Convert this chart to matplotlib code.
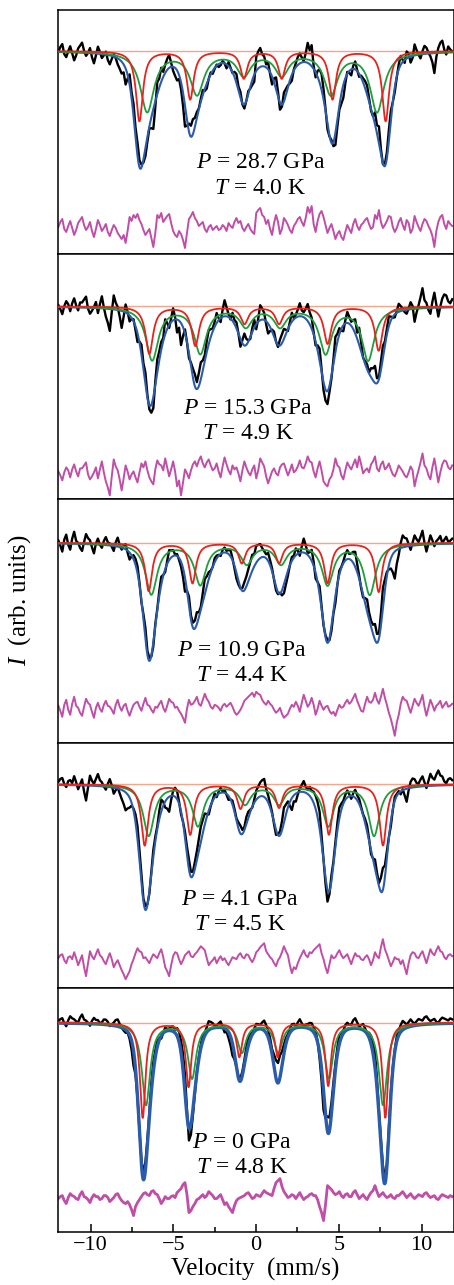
import numpy as np
import matplotlib
matplotlib.use('Agg')
import matplotlib.pyplot as plt
from matplotlib.ticker import MultipleLocator

plt.rcParams['font.family'] = ['Liberation Serif', 'DejaVu Serif']
plt.rcParams['mathtext.fontset'] = 'custom'
plt.rcParams['mathtext.rm'] = 'Liberation Serif'
plt.rcParams['mathtext.it'] = 'Liberation Serif:italic'

# Spectra from top to bottom
pressures = ['28.7', '15.3', '10.9', '4.1', '0']
temperatures = ['4.0', '4.9', '4.4', '4.5', '4.8']

# Sextet 1 (red): line positions (mm/s), depths (arb.), FWHM (mm/s)
red_pos = [[-7.05, -3.98, -0.74, 1.55, 4.62, 7.83],
           [-6.45, -3.67, -0.70, 1.39, 4.32, 7.41],
           [-6.49, -3.84, -0.86, 1.39, 4.32, 7.41],
           [-6.73, -3.98, -0.94, 1.39, 4.40, 7.67],
           [-6.85, -4.08, -1.01, 1.31, 4.36, 7.81]]
red_depth = [[0.70, 0.48, 0.27, 0.27, 0.48, 0.70],
             [0.47, 0.39, 0.17, 0.17, 0.37, 0.44],
             [0.48, 0.40, 0.20, 0.20, 0.40, 0.49],
             [0.61, 0.50, 0.24, 0.23, 0.50, 0.61],
             [0.95, 0.64, 0.34, 0.34, 0.63, 0.95]]
red_fwhm = [0.50, 0.55, 0.50, 0.50, 0.40]

# Sextet 2 (green)
green_pos = [[-6.58, -3.57, -0.74, 1.55, 4.52, 7.31],
             [-6.28, -3.37, -0.62, 1.45, 4.20, 6.77],
             [-6.33, -3.37, -0.56, 1.51, 4.32, 6.87],
             [-6.49, -3.51, -0.66, 1.39, 4.36, 7.13],
             [-6.65, -3.87, -0.86, 1.34, 4.40, 7.67]]
green_depth = [[0.60, 0.42, 0.23, 0.23, 0.42, 0.60],
               [0.53, 0.46, 0.19, 0.19, 0.46, 0.53],
               [0.51, 0.41, 0.20, 0.20, 0.41, 0.51],
               [0.51, 0.41, 0.19, 0.19, 0.41, 0.51],
               [0.82, 0.55, 0.29, 0.29, 0.55, 0.82]]
green_fwhm = [1.00, 0.90, 0.85, 0.80, 0.60]

# Total fit (blue): same lines, broadened (pseudo-Voigt) and rescaled
blue_scale = [1.00, 1.00, 1.20, 1.16, 0.93]
blue_broad = [1.5, 1.5, 1.5, 1.5, 1.5]
blue_eta = 0.4

# Residuals (data - fit), in 0.01 arb. units, 200 channels from -11.95 to 11.85 mm/s
resid_1 = [0, 5, 8, -2, -5, 1, 6, -1, -8, -3, 4, 7, 10, 2, -3, 0, 5, -4, -10, -2,
           7, 2, -4, -1, 3, -5, -9, -3, 2, -1, -6, -9, -12, -8, -16, -4, 10, 6, 12, 9,
           13, 7, 3, -3, -8, -5, -2, -11, -20, -6, 12, 9, 14, 5, 8, 11, 13, 4, -4, -8,
           -10, -4, -7, -13, -21, -6, 8, 11, 15, 9, 6, 1, 3, 5, -2, -5, 0, 2, -3, -1,
           1, -3, -2, 2, 0, -4, 4, 1, -1, 5, 9, 4, 6, -1, -4, 0, 3, -2, -5, -7,
           14, 17, 19, 12, 10, 3, 7, -2, -8, 4, 12, 5, -7, -2, 9, 6, 2, -3, -6, 1,
           4, 8, 10, 5, 1, 9, 20, 14, 21, 3, -5, 6, 13, 16, 10, 2, -6, -1, 3, -4,
           -12, -7, -4, -10, -13, -5, 2, -2, -6, 3, 8, 1, -3, 2, 4, 7, 9, 3, -2, 0,
           12, 8, 17, 5, -1, 2, 6, 11, 10, 0, -5, -1, 5, 9, 2, -3, 7, 4, -6, -2,
           11, 5, 0, -4, 3, 8, 6, 1, -3, -9, -20, -4, 5, 10, 12, 3, -2, 6, 3, 1]
resid_2 = [2, -2, -7, 1, 6, 3, -4, 4, 9, 2, -3, 5, 5, 8, 11, -1, -6, -3, 1, 6,
           -5, 4, 12, 1, -8, -14, -22, -3, 14, 7, 3, -6, -17, -5, 8, 2, -6, -1, 2, -4,
           -9, 1, 10, 6, 12, 3, -4, -8, -11, 4, 13, 9, 8, 3, 15, 6, -3, 4, 12, 2,
           -13, -7, -22, -9, 4, 0, -5, 3, 9, 12, 7, 13, 17, 10, 6, 11, 14, 8, 3, 5,
           10, 2, -4, 7, 16, 9, 3, -1, 8, 4, 6, 0, -8, 3, 12, 6, 1, -2, 4, 8,
           -5, 3, 15, 11, 7, -3, -10, -4, 2, 5, 0, -2, 6, 9, 10, 4, -2, 3, 9, 1,
           3, 7, 13, 6, 5, 10, 17, 12, 11, 2, -4, 5, 12, 3, -8, -11, -13, -6, -3, 4,
           15, 8, 6, -2, -6, 3, 11, 7, 4, 9, 14, 6, 17, 9, 0, 3, 5, 1, 9, 12,
           17, 5, 2, 9, 12, 4, 6, 10, 4, -1, -3, 2, 8, 5, 2, -2, -4, 1, 7, 3,
           -13, -4, 3, 11, 20, 8, 5, -2, -6, 6, 15, 3, -9, 1, 9, 13, 12, 6, 4, 8]
resid_3 = [3, -2, -8, 4, 9, -1, -6, 5, 12, 3, 1, -4, -7, 2, 10, 6, 4, -3, -9, 1,
           6, 0, -3, 4, 8, 3, 2, -1, -5, 4, 9, 2, -2, 3, 5, -2, -7, -1, 4, 6,
           7, 2, -2, 5, 11, 4, 3, -1, -4, 2, 1, 5, 8, 1, -3, 3, 10, 7, 6, 1,
           2, -2, -5, -9, -14, 0, 9, 4, 5, 8, 12, 5, 3, 9, 15, 10, 7, 2, 0, 4,
           3, 1, -2, 3, 5, 2, 4, 6, 2, -3, -6, -4, -1, 3, 8, 10, 12, 14, 16, 12,
           17, 15, 14, 9, 6, 4, 8, 5, 3, -1, -4, -2, 1, -5, -9, -7, -5, 0, 4, 2,
           7, 3, -3, 6, 14, 8, 2, 5, 11, 4, -6, 0, 8, 3, -1, 2, 3, -2, -5, -3,
           -7, -1, 4, 1, 2, 6, 9, 5, 7, 11, 15, 8, 3, -2, -3, 5, 12, 7, 6, 9,
           16, 9, 5, 12, 20, 11, 4, -4, -10, -18, -27, -14, -6, 5, 12, 9, 8, 2, -4, 3,
           10, 6, 3, 8, 14, 2, -7, 1, 9, 4, -2, 3, 5, 8, 1, 4, 7, 2, 3, 5]
resid_4 = [3, 6, 7, 1, -2, 4, 5, 2, 9, 3, -4, 1, 6, -6, -15, -2, 10, 5, 2, 7,
           12, 6, 4, 0, -3, 3, 8, 2, -6, -2, 1, -4, -9, -13, -18, -14, -10, -3, 2, 8,
           13, 10, 9, 3, 4, 1, -2, 3, 7, 5, 3, 8, 12, 4, -6, -10, -15, -4, 5, 9,
           8, 2, -3, 1, 6, 8, 10, 5, 4, 7, 9, 12, 15, 13, 11, 3, -4, -1, 1, 4,
           -2, 2, 5, 1, 3, -1, -4, 0, 4, 3, 2, 6, 8, 4, 3, 7, 6, 2, -1, 3,
           9, 11, 14, 16, 18, 10, 7, 4, 2, -2, -5, 1, 4, 9, 15, 10, 6, -4, -12, -6,
           -8, -2, 3, 7, 11, 6, 4, 9, 8, 11, 13, 15, 17, 8, 2, -6, -12, -3, 6, 3,
           4, 8, 11, 6, 3, 5, 7, 2, -3, 3, 8, 5, 5, 2, 1, 4, 6, 2, -4, 1,
           9, 5, 3, 14, 22, 12, 7, 1, -5, -1, 4, 2, 2, -3, 1, -6, -13, -2, 6, 9,
           8, 4, 3, 7, 10, 4, -2, 5, 12, 8, 6, 11, 15, 10, 9, 4, 2, 6, 7, 5]
resid_5 = [2, 4, 5, 0, -3, 3, 7, 5, 4, 2, 1, 6, 9, 4, 3, 1, -2, 3, 6, 4,
           4, 1, 2, 5, 5, 3, -1, 1, 3, 6, 7, 3, 0, -2, -3, -1, -4, -9, -15, -6,
           -2, 1, 4, 7, 8, 6, 5, 9, 10, 7, 6, 2, -3, 0, 4, 2, 2, 4, 5, 3,
           8, 10, 12, 16, 18, 6, -12, -10, -6, -3, 1, 2, 4, 6, 3, 5, 9, 7, 5, 2,
           2, 4, 6, 1, -4, -2, -6, -9, -12, -5, 0, 2, 3, 4, 5, 7, 8, 5, 2, 3,
           6, 5, 4, 7, 10, 8, 7, 6, 5, 12, 18, 20, 22, 14, 9, 6, 3, 4, 6, 5,
           2, 5, 8, 4, 1, 3, 4, 6, 7, 5, 5, 1, -6, -12, -20, -4, 15, 13, 11, 8,
           6, 7, 9, 5, 3, 6, 7, 4, 4, 8, 10, 6, 2, 4, 6, 3, 1, 5, 8, 10,
           15, 9, 4, 6, 8, 5, 3, 4, 6, 3, 2, 5, 5, 7, 9, 6, 3, 5, 7, 4,
           2, 4, 6, 5, 4, 7, 8, 5, 3, 4, 5, 2, 1, 4, 6, 5, 4, 3, 5, 4]
residuals = [resid_1, resid_2, resid_3, resid_4, resid_5]

# Layout per panel: space above baseline, offset of residual trace, label position
top_space = [0.41, 0.52, 0.44, 0.41, 0.35]
resid_offset = [-1.76, -1.67, -1.66, -1.77, -1.78]
label_x = [0.25, -0.5, -0.86, -0.96, -0.86]
label_y = [-1.12, -1.02, -1.08, -1.15, -1.20]
panel_height = 2.444


def sextet(v, pos, depth, fwhm, eta=1.0):
    # eta = Lorentzian fraction of a pseudo-Voigt line
    hw = fwhm / 2.0
    out = np.zeros_like(v)
    for p, d in zip(pos, depth):
        lor = 1.0 / (1.0 + ((v - p) / hw) ** 2)
        gau = np.exp(-np.log(2) * ((v - p) / hw) ** 2)
        out += d * (eta * lor + (1 - eta) * gau)
    return out


def total_fit(v, i):
    k, w = blue_scale[i], blue_broad[i]
    return k * (sextet(v, red_pos[i], red_depth[i], red_fwhm[i] * w, blue_eta)
                + sextet(v, green_pos[i], green_depth[i], green_fwhm[i] * w, blue_eta))


v_fine = np.linspace(-12, 12, 1200)
v_data = np.linspace(-11.95, 11.85, 200)

fig = plt.figure(figsize=(4.54, 12.85), dpi=100)
gs = fig.add_gridspec(5, 1, left=57.5 / 454, right=453.5 / 454,
                      top=1 - 10 / 1285, bottom=1 - 1232 / 1285, hspace=0)

for i in range(5):
    ax = fig.add_subplot(gs[i])
    red = sextet(v_fine, red_pos[i], red_depth[i], red_fwhm[i])
    green = sextet(v_fine, green_pos[i], green_depth[i], green_fwhm[i])
    blue = total_fit(v_fine, i)
    res = np.array(residuals[i]) / 100.0

    lw_fit = 2.4 if i == 4 else 1.5
    ax.axhline(0, color='#f5a58a', lw=1.0, zorder=1)
    ax.plot(v_data, -total_fit(v_data, i) + res, color='black', lw=1.7, zorder=2)
    ax.plot(v_fine, -blue, color='#2b5cab', lw=lw_fit, zorder=3)
    ax.plot(v_fine, -green, color='#1e9e3c', lw=1.3, zorder=4)
    ax.plot(v_fine, -red, color='#e8231c', lw=1.3, zorder=5)
    ax.plot(v_data, res + resid_offset[i], color='#c04ea6',
            lw=2.0 if i == 4 else 1.4, zorder=2)

    ax.text(label_x[i], label_y[i], r'$P$ = %s GPa' % pressures[i],
            ha='center', va='center', fontsize=17)
    ax.text(label_x[i], label_y[i] - 0.25, r'$T$ = %s K' % temperatures[i],
            ha='center', va='center', fontsize=17)

    ax.set_xlim(-12, 11.93)
    ax.set_ylim(top_space[i] - panel_height, top_space[i])
    ax.set_yticks([])
    for s in ax.spines.values():
        s.set_linewidth(1.1)
    if i < 4:
        ax.set_xticks([])
    else:
        ax.xaxis.set_major_locator(MultipleLocator(5))
        ax.xaxis.set_minor_locator(MultipleLocator(2.5))
        ax.tick_params(axis='x', which='major', direction='in', length=6,
                       width=1.1, labelsize=16, pad=3)
        ax.tick_params(axis='x', which='minor', direction='in', length=3.5,
                       width=1.1)
        ax.set_xlabel('Velocity  (mm/s)', fontsize=18, labelpad=2)

fig.text(0.044, 0.533, r'$I$  (arb. units)', rotation=90, ha='center',
         va='center', fontsize=18)

fig.savefig('out.png', dpi=100)
